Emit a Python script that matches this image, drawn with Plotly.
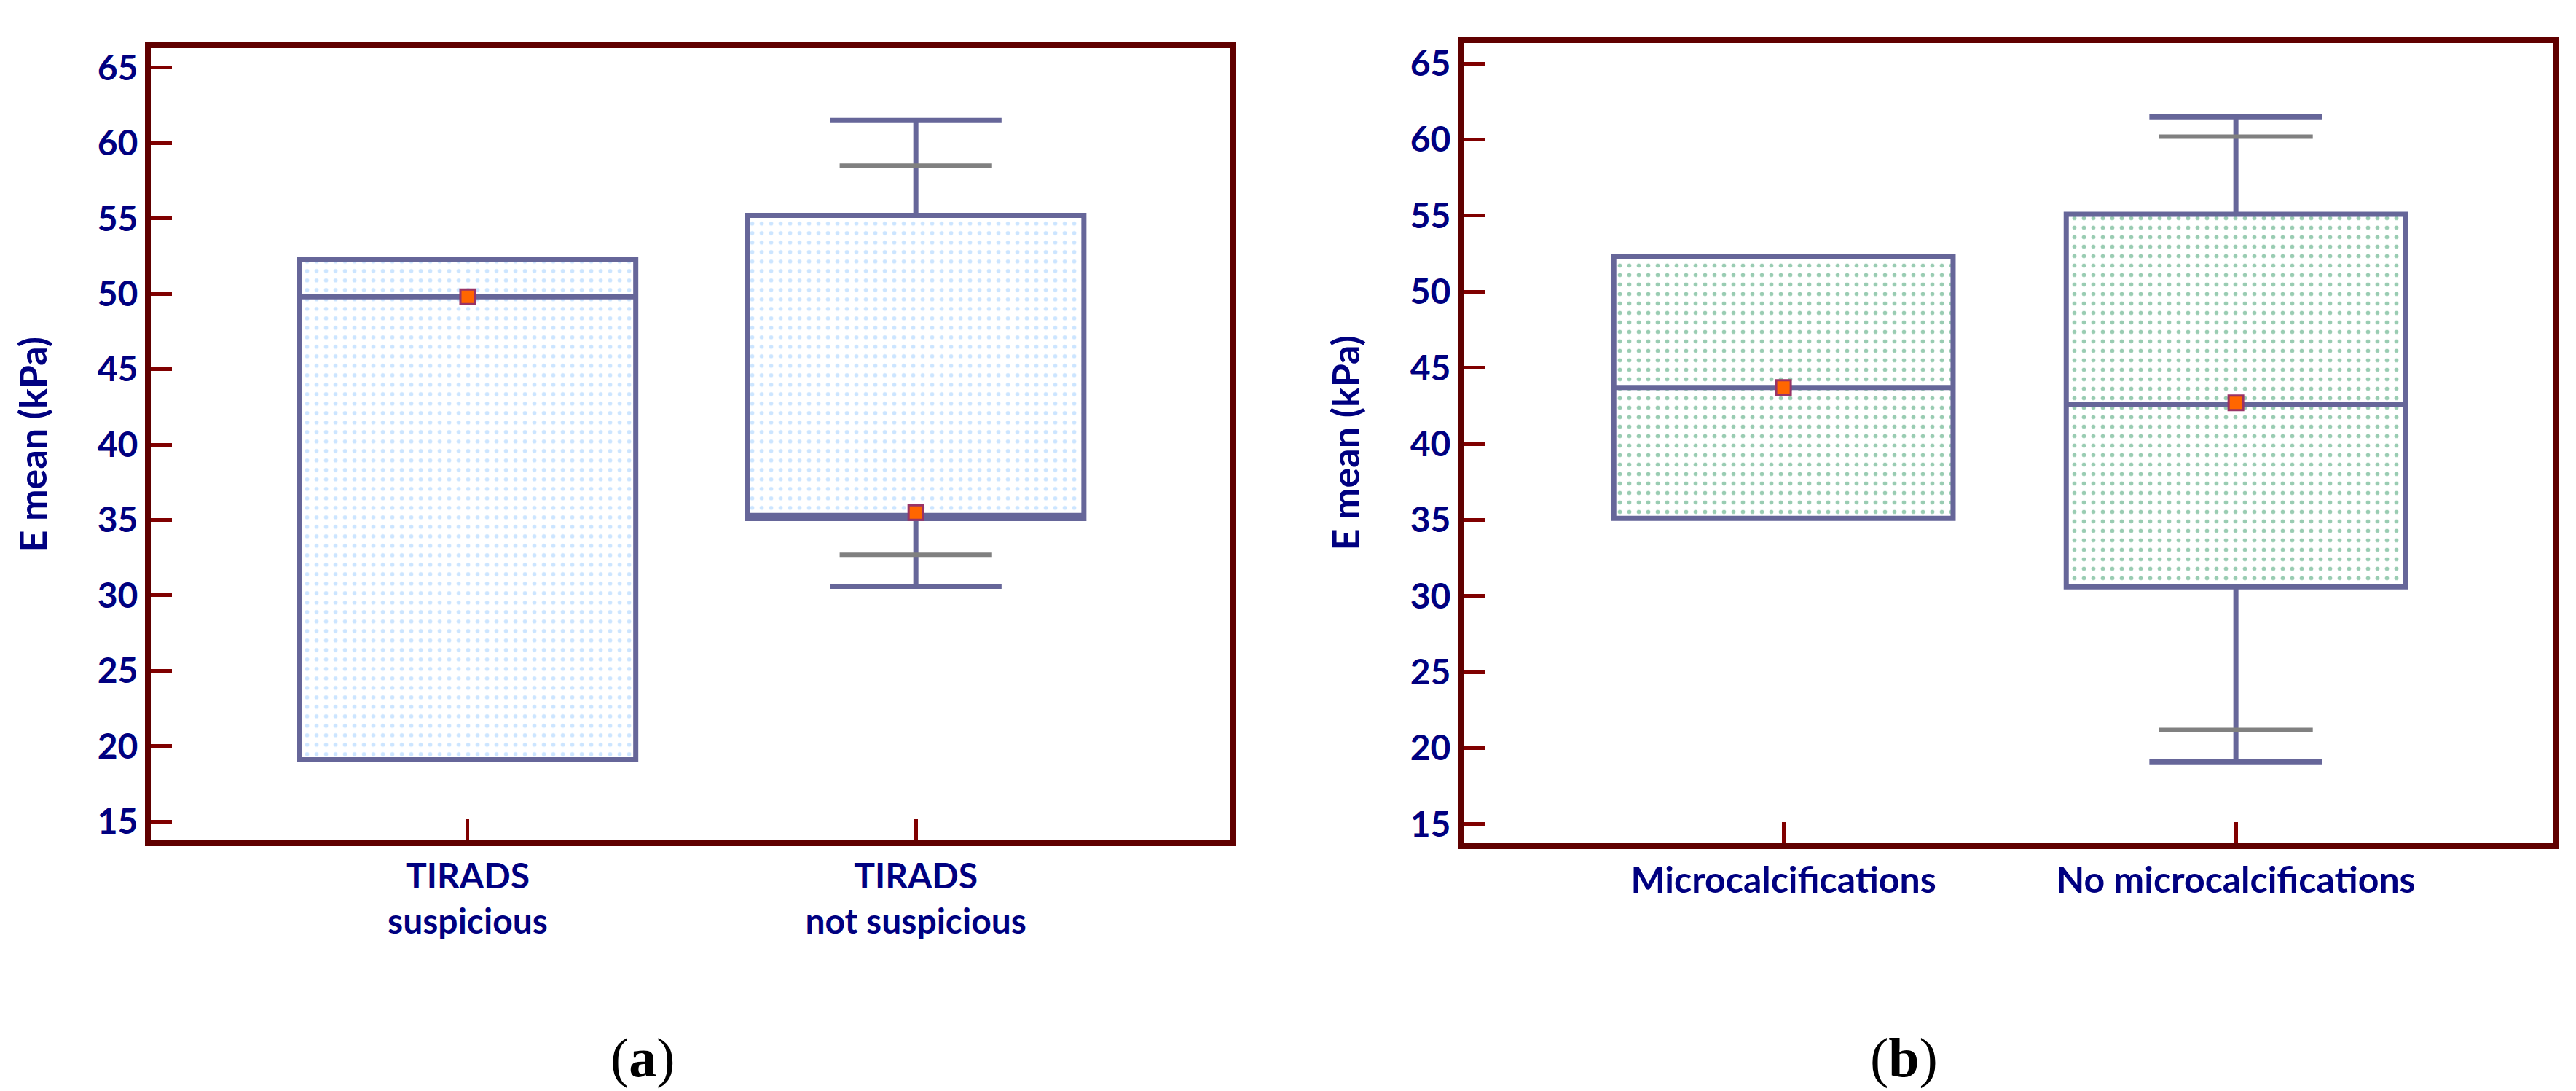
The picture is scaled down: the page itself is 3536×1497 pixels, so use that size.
import plotly.graph_objects as go
from plotly.subplots import make_subplots

# panel (a): TIRADS
tirads_labels = ["TIRADS<br>suspicious", "TIRADS<br>not suspicious"]
tirads_q1 = [19.1, 35.1]
tirads_median = [49.8, 35.3]
tirads_q3 = [52.3, 55.2]
tirads_low = [19.1, 30.6]
tirads_high = [52.3, 61.5]
tirads_mean = [49.8, 35.5]
tirads_p_low = [None, 32.7]
tirads_p_high = [None, 58.5]

# panel (b): microcalcifications
micro_labels = ["Microcalcifications", "No microcalcifications"]
micro_q1 = [35.1, 30.6]
micro_median = [43.7, 42.6]
micro_q3 = [52.3, 55.1]
micro_low = [35.1, 19.1]
micro_high = [52.3, 61.5]
micro_mean = [43.7, 42.7]
micro_p_low = [None, 21.2]
micro_p_high = [None, 60.2]

y_ticks = [15, 20, 25, 30, 35, 40, 45, 50, 55, 60, 65]

LINE_COLOR = "#600000"
TICK_COLOR = "#800000"
BOX_COLOR = "#666699"
TEXT_COLOR = "#000080"
FONT = "Lato"
BOX_W = 0.75
GRAY_W = 0.34

fig = make_subplots(rows=1, cols=2)


def add_panel(col, q1, med, q3, low, high, mean, p_low, p_high, dot_color):
    pos = list(range(len(q1)))
    # dotted fill of the boxes
    fig.add_trace(go.Bar(
        x=pos, y=[b - a for a, b in zip(q1, q3)], base=q1, width=BOX_W,
        marker=dict(color="white", line=dict(width=0),
                    pattern=dict(shape=".", fgcolor=dot_color, bgcolor="white",
                                 size=13, solidity=0.15)),
        showlegend=False, hoverinfo="skip"), row=1, col=col)
    fig.add_trace(go.Box(
        x=pos, q1=q1, median=med, q3=q3, lowerfence=low, upperfence=high,
        width=BOX_W, whiskerwidth=0.51, fillcolor="rgba(0,0,0,0)",
        line=dict(color=BOX_COLOR, width=7), boxpoints=False,
        showlegend=False), row=1, col=col)
    # grey percentile bars
    for i in pos:
        for v in (p_low[i], p_high[i]):
            if v is None:
                continue
            fig.add_trace(go.Scatter(
                x=[i - GRAY_W / 2, i + GRAY_W / 2], y=[v, v], mode="lines",
                line=dict(color="#808080", width=6), showlegend=False,
                hoverinfo="skip"), row=1, col=col)
    fig.add_trace(go.Scatter(
        x=pos, y=mean, mode="markers",
        marker=dict(symbol="square", size=20, color="#ff6600",
                    line=dict(color="#993366", width=3)),
        showlegend=False), row=1, col=col)


add_panel(1, tirads_q1, tirads_median, tirads_q3, tirads_low, tirads_high,
          tirads_mean, tirads_p_low, tirads_p_high, "#99ccff")
add_panel(2, micro_q1, micro_median, micro_q3, micro_low, micro_high,
          micro_mean, micro_p_low, micro_p_high, "#339966")

axis_common = dict(
    showline=True, linecolor=LINE_COLOR, linewidth=8, mirror=True,
    ticks="inside", tickcolor=TICK_COLOR, tickwidth=5, ticklen=29,
    showgrid=False, zeroline=False,
)

fig.update_xaxes(**axis_common, range=[-0.707, 1.702], tickvals=[0, 1])
fig.update_xaxes(ticktext=tirads_labels, domain=[0.0563, 0.4754],
                 tickfont=dict(family=FONT, size=48, color=TEXT_COLOR, weight="bold"),
                 row=1, col=1)
fig.update_xaxes(ticktext=micro_labels, domain=[0.5659, 0.9890],
                 tickfont=dict(family=FONT, size=50, color=TEXT_COLOR, weight="bold"),
                 row=1, col=2)

fig.update_yaxes(**axis_common, tickvals=y_ticks,
                 tickfont=dict(family=FONT, size=48, color=TEXT_COLOR, weight="bold"),
                 title=dict(text="E mean (kPa)", standoff=56,
                            font=dict(family=FONT, size=52, color=TEXT_COLOR,
                                      weight="bold")))
fig.update_yaxes(range=[13.75, 66.28], domain=[0.2351, 0.9636], row=1, col=1)
fig.update_yaxes(range=[13.76, 66.36], domain=[0.2327, 0.9686], row=1, col=2)

for label, xpos in (("(<b>a</b>)", 874 / 3536), ("(<b>b</b>)", 2605 / 3536)):
    fig.add_annotation(text=label, x=xpos, y=1 - 1444 / 1497, xref="paper",
                       yref="paper", xanchor="center", yanchor="middle",
                       showarrow=False,
                       font=dict(family="Liberation Serif", size=76, color="black"))

fig.update_layout(
    width=3536, height=1497,
    margin=dict(l=0, r=0, t=0, b=0),
    paper_bgcolor="white", plot_bgcolor="white",
    barmode="overlay", boxmode="overlay",
)

fig.write_html("out.html")
